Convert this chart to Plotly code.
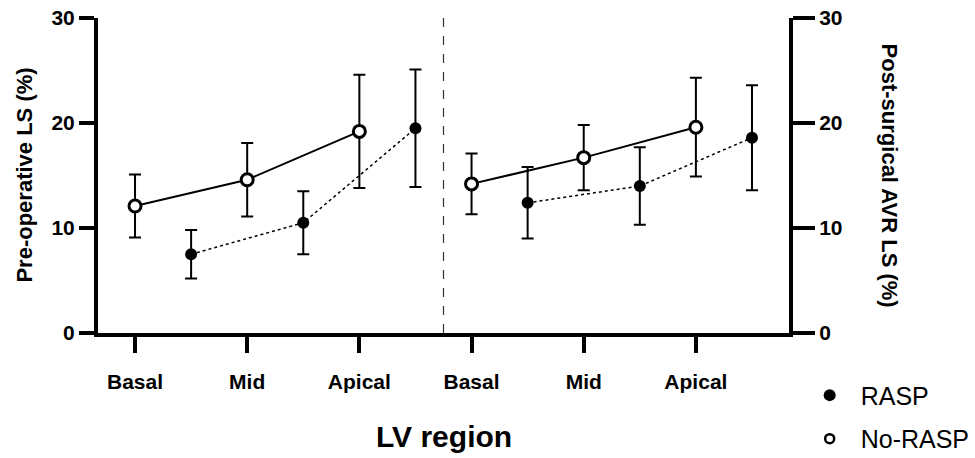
import plotly.graph_objects as go

# ---- data ----
regions = ["Basal", "Mid", "Apical"]
pre_norasp = [12.1, 14.6, 19.2]
pre_norasp_err = [3.0, 3.5, 5.4]
pre_rasp = [7.5, 10.5, 19.5]
pre_rasp_err = [2.3, 3.0, 5.6]
post_norasp = [14.2, 16.7, 19.6]
post_norasp_err = [2.9, 3.1, 4.7]
post_rasp = [12.4, 14.0, 18.6]
post_rasp_err = [3.4, 3.7, 5.0]
y_ticks = [0, 10, 20, 30]

FONT = "Liberation Sans"
BLACK = "#000000"

pre_x = [0, 1, 2]
post_x = [3, 4, 5]
offset = 0.5

fig = go.Figure()

def add_series(xs, ys, errs, filled, dotted):
    fig.add_trace(go.Scatter(
        x=xs, y=ys, mode="lines+markers", showlegend=False,
        line=dict(color=BLACK, width=1.5 if dotted else 2, dash="dot" if dotted else "solid"),
        marker=dict(symbol="circle", size=12,
                    color=BLACK if filled else "white",
                    line=dict(color=BLACK, width=0 if filled else 3)),
        error_y=dict(type="data", array=errs, visible=True, color=BLACK, thickness=2, width=6),
    ))

add_series(pre_x, pre_norasp, pre_norasp_err, False, False)
add_series([v + offset for v in pre_x], pre_rasp, pre_rasp_err, True, True)
add_series(post_x, post_norasp, post_norasp_err, False, False)
add_series([v + offset for v in post_x], post_rasp, post_rasp_err, True, True)

# second y axis (same scale) on the right
fig.add_trace(go.Scatter(x=[None], y=[None], yaxis="y2", showlegend=False, hoverinfo="skip"))

# legend entries
fig.add_trace(go.Scatter(x=[None], y=[None], mode="markers", name="RASP", legendgroup="a",
                         marker=dict(symbol="circle", size=12, color=BLACK)))
fig.add_trace(go.Scatter(x=[None], y=[None], mode="markers", name="No-RASP", legendgroup="b",
                         marker=dict(symbol="circle", size=9, color="white",
                                     line=dict(color=BLACK, width=2.5))))

divider = (pre_x[-1] + offset + post_x[0]) / 2
fig.add_shape(type="line", x0=divider, x1=divider, y0=0, y1=1, xref="x", yref="paper",
              line=dict(color="#333333", width=1.2, dash="dash"))

tickfont = dict(family=FONT, size=21, color=BLACK, weight="bold")

fig.update_layout(
    width=975, height=458,
    margin=dict(l=98, r=186, t=18, b=125, autoexpand=False),
    paper_bgcolor="white", plot_bgcolor="white",
    font=dict(family=FONT, color=BLACK),
    xaxis=dict(
        range=[pre_x[0] - 0.33, post_x[-1] + offset + 0.33],
        tickvals=pre_x + post_x, ticktext=regions + regions,
        showline=True, linewidth=4, linecolor=BLACK,
        ticks="outside", ticklen=16, tickwidth=4, tickcolor=BLACK,
        showgrid=False, zeroline=False, tickfont=tickfont,
        ticklabelstandoff=11, ticklabeloverflow="allow",
    ),
    yaxis=dict(
        range=[0, 30], tickvals=y_ticks,
        showline=True, linewidth=4, linecolor=BLACK,
        ticks="outside", ticklen=15, tickwidth=4, tickcolor=BLACK,
        showgrid=False, zeroline=False, tickfont=tickfont,
        ticklabeloverflow="allow",
    ),
    yaxis2=dict(
        range=[0, 30], tickvals=y_ticks, overlaying="y", side="right",
        showline=True, linewidth=4, linecolor=BLACK,
        ticks="outside", ticklen=22, tickwidth=4, tickcolor=BLACK,
        showgrid=False, zeroline=False, tickfont=tickfont,
        ticklabeloverflow="allow",
    ),
    legend=dict(
        x=1.014, xanchor="left", y=-0.125, yanchor="top",
        font=dict(family=FONT, size=25, color=BLACK),
        tracegroupgap=8, itemwidth=52, bgcolor="rgba(0,0,0,0)",
    ),
    annotations=[
        dict(text="<b>Pre-operative LS (%)</b>", xref="paper", yref="paper",
             x=-0.107, y=0.5, xanchor="center", yanchor="middle", textangle=-90,
             showarrow=False, font=dict(family=FONT, size=22, color=BLACK)),
        dict(text="<b>Post-surgical AVR LS (%)</b>", xref="paper", yref="paper",
             x=1.146, y=0.5, xanchor="center", yanchor="middle", textangle=90,
             showarrow=False, font=dict(family=FONT, size=22, color=BLACK)),
        dict(text="<b>LV region</b>", xref="paper", yref="paper",
             x=0.5, y=-0.327, xanchor="center", yanchor="middle", showarrow=False,
             font=dict(family=FONT, size=30, color=BLACK)),
    ],
)

# remove the browser's default 8px page margin so the figure fills the window exactly
fig.write_html("out.html", config={"displayModeBar": False},
               post_script="document.body.style.margin='0px';")
